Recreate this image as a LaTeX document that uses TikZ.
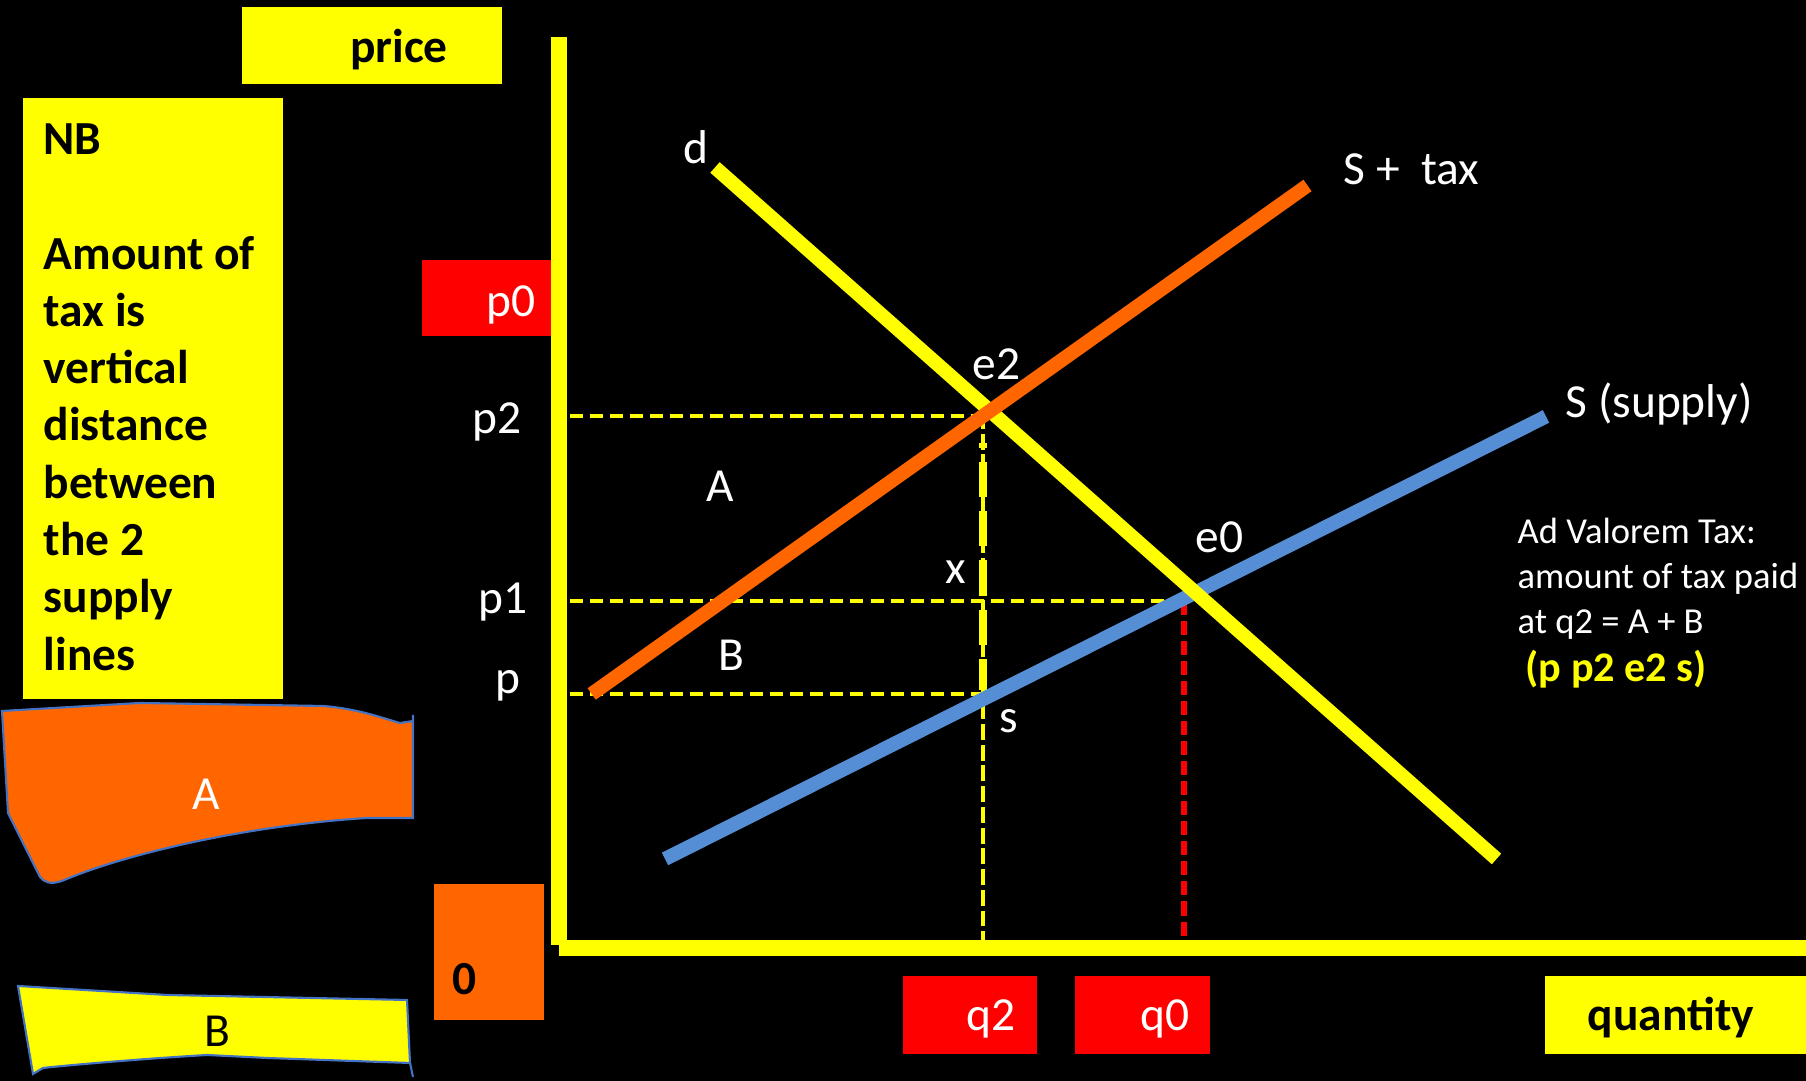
\documentclass[tikz,border=0pt]{standalone}
\usepackage{fontspec}
\setmainfont{Carlito}
\usepackage{tikz}
\definecolor{taxyellow}{RGB}{255, 255, 0}
\definecolor{taxorange}{RGB}{255, 102, 0}
\definecolor{taxred}{RGB}{255, 0, 0}
\definecolor{supplyblue}{RGB}{85, 142, 213}
\definecolor{blobedge}{RGB}{68, 114, 196}

\begin{document}
\begin{tikzpicture}[
    lbl/.style={text=white, inner sep=0pt, font=\fontsize{13.5}{16.3}\selectfont},
    darklbl/.style={text=black, inner sep=0pt, font=\fontsize{13.5}{16.3}\selectfont\bfseries},
    tagbox/.style={inner sep=0pt, outer sep=0pt, anchor=south west},
    market/.style={line width=4pt},
    axisline/.style={taxyellow, line width=4.3pt},
    guide/.style={taxyellow, line width=1.4pt, dash pattern=on 3.7pt off 2pt},
    blob/.style={draw=blobedge, line width=0.6pt},
  ]
    %% page
    \useasboundingbox (0,0) rectangle (18.06,10.81);
    \fill[black] (0,0) rectangle (18.06,10.81);

    %% note column on the left
    \node[tagbox, fill=taxyellow, minimum width=2.60cm, minimum height=6.01cm] (nbbox) at (0.23,3.82) {};
    \node[darklbl, anchor=north west, align=left] (nbtext) at (0.43,9.58)
      {NB\\[16.3pt]Amount of\\tax is\\vertical\\distance\\between\\the 2\\supply\\lines};

    \filldraw[blob, fill=taxorange] (0.02,3.70) -- (1.40,3.78) -- (3.23,3.75)
      .. controls (3.60,3.72) and (3.85,3.62) .. (4.00,3.58) -- (4.13,3.60) -- (4.13,3.66)
      -- (4.13,2.63) -- (3.67,2.63) .. controls (2.40,2.55) and (1.20,2.25) .. (0.62,2.00)
      .. controls (0.50,1.96) and (0.44,1.99) .. (0.40,2.04) -- (0.08,2.68) -- cycle;
    \node[lbl, anchor=base] (blobA) at (2.06,2.71) {A};

    \filldraw[blob, fill=taxyellow] (0.18,0.95) -- (1.67,0.86) -- (4.07,0.81) -- (4.10,0.18)
      -- (2.67,0.23) -- (2.07,0.26) .. controls (1.40,0.22) and (0.70,0.16) .. (0.43,0.13)
      -- (0.33,0.07) -- cycle;
    \draw[blob] (4.10,0.18) -- (4.13,0.04);
    \node[darklbl, font=\fontsize{13.5}{16.3}\selectfont, anchor=base] (blobB) at (2.17,0.34) {B};

    %% axis tags
    \node[tagbox, fill=taxyellow, minimum width=2.60cm, minimum height=0.77cm] (pricebox) at (2.42,9.97) {};
    \node[darklbl, anchor=base] (price) at (3.99,10.18) {price};
    \node[tagbox, fill=taxred, minimum width=1.33cm, minimum height=0.76cm] (p0box) at (4.22,7.45) {};
    \node[lbl, anchor=base] (p0) at (5.11,7.645) {p0};
    \node[tagbox, fill=taxorange, minimum width=1.10cm, minimum height=1.36cm] (zerobox) at (4.34,0.61) {};
    \node[darklbl, anchor=base] (zero) at (4.65,0.86) {0};
    \node[tagbox, fill=taxred, minimum width=1.34cm, minimum height=0.78cm] (q2box) at (9.03,0.27) {};
    \node[lbl, anchor=base] (q2) at (9.91,0.50) {q2};
    \node[tagbox, fill=taxred, minimum width=1.35cm, minimum height=0.78cm] (q0box) at (10.75,0.27) {};
    \node[lbl, anchor=base] (q0) at (11.65,0.50) {q0};
    \node[tagbox, fill=taxyellow, minimum width=2.61cm, minimum height=0.78cm] (qtybox) at (15.45,0.27) {};
    \node[darklbl, anchor=base] (quantity) at (16.71,0.50) {quantity};

    %% key points
    \coordinate (origin) at (5.59,1.33);
    \coordinate (ytop) at (5.59,10.44);
    \coordinate (xend) at (18.06,1.33);
    \coordinate (e2) at (9.83,6.68);
    \coordinate (e0) at (11.84,4.80);
    \coordinate (s) at (9.83,3.87);
    \coordinate (p2mark) at (5.70,6.65);
    \coordinate (p1mark) at (5.70,4.80);
    \coordinate (pmark) at (5.70,3.87);
    \coordinate (xtop) at (9.83,6.38);
    \coordinate (xbot) at (9.83,3.91);

    %% dashed guides
    \draw[guide] (p2mark) -- (p2mark -| e2);
    \draw[guide] (p1mark) -- (e0);
    \draw[guide] (pmark) -- (pmark -| s);
    \draw[guide, line width=1.2pt, dash pattern=on 4.5pt off 1.4pt] (e2) -- (e2 |- origin);
    \draw[taxyellow, line width=2.5pt, dash pattern=on 10pt off 4pt, dash phase=8.6pt] (xtop) -- (xbot);
    \draw[taxred, line width=1.6pt, dash pattern=on 4pt off 1.7pt] (e0) -- (e0 |- origin);

    %% supply, demand, supply + tax
    \coordinate (slow) at (6.65,2.22);
    \coordinate (shigh) at (15.46,6.645);
    \coordinate (dtop) at (7.15,9.135);
    \coordinate (dbot) at (14.965,2.22);
    \coordinate (taxlow) at (5.917,3.87);
    \coordinate (taxhigh) at (13.075,8.955);
    \draw[market, supplyblue] (slow) -- (shigh);
    \draw[market, taxyellow] (dtop) -- (dbot);
    \draw[market, taxorange] (taxlow) -- (taxhigh);

    %% axes
    \draw[axisline] (ytop) -- ([yshift=0.03cm]origin);
    \draw[axisline, line width=4.5pt] (origin) -- (xend);

    %% labels
    \node[lbl, anchor=base] (dlbl) at (6.96,9.17) {d};
    \node[lbl, anchor=base west] (taxlbl) at (13.43,8.96) {S +\ \ tax};
    \node[lbl, anchor=base west] (supplylbl) at (15.65,6.63) {S (supply)};
    \node[lbl, anchor=base] (e2lbl) at (9.965,7.01) {e2};
    \node[lbl, anchor=base west] (e0lbl) at (11.95,5.28) {e0};
    \node[lbl, anchor=base] (slbl) at (10.09,3.48) {s};
    \node[lbl, anchor=base] (xlbl) at (9.555,4.97) {x};
    \node[lbl, anchor=base] (areaA) at (7.20,5.79) {A};
    \node[lbl, anchor=base] (areaB) at (7.315,4.10) {B};
    \node[lbl, anchor=base east] (p2) at (5.22,6.47) {p2};
    \node[lbl, anchor=base east] (p1) at (5.28,4.67) {p1};
    \node[lbl, anchor=base east] (p) at (5.21,3.87) {p};

    \node[lbl, font=\fontsize{10.4}{12.8}\selectfont, anchor=north west, align=left] (advalorem) at (15.17,5.635)
      {Ad Valorem Tax:\\amount of tax paid\\at q2 = A + B};
    \node[lbl, text=taxyellow, font=\fontsize{12}{14}\selectfont\bfseries, anchor=base west] (area) at (15.25,3.99)
      {(p p2 e2 s)};
\end{tikzpicture}
\end{document}
